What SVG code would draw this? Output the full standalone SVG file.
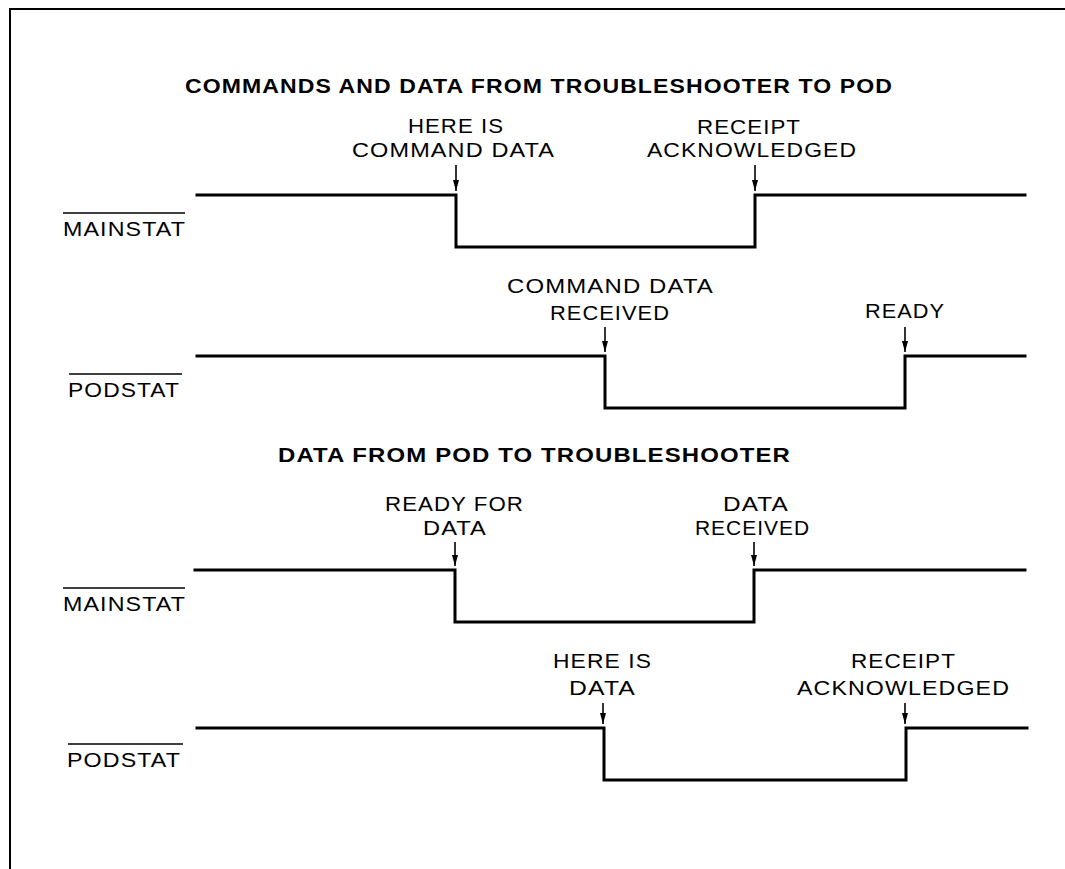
<svg xmlns="http://www.w3.org/2000/svg" width="1065" height="869" viewBox="0 0 1065 869">
  <defs>
    <style>
      .frame { fill: none; stroke: #000; stroke-width: 2; }
      .wave { fill: none; stroke: #000; stroke-width: 3; stroke-linejoin: miter; stroke-linecap: square; }
      .bar { stroke: #000; stroke-width: 1.6; }
      .tick { stroke: #000; stroke-width: 1.6; fill: none; }
      .title { font-family: "Liberation Sans", Arial, sans-serif; font-weight: bold; font-size: 21px; letter-spacing: 1px; fill: #000; }
      .lbl { font-family: "Liberation Sans", Arial, sans-serif; font-size: 21px; letter-spacing: 1px; fill: #000; }
    </style>
    <!-- narrow filled head pointing along the line direction -->
    <marker id="head" markerUnits="userSpaceOnUse" markerWidth="12" markerHeight="8" viewBox="0 0 12 8" refX="11" refY="4" orient="auto">
      <path d="M0,1 L11,4 L0,7 Z" fill="#000"/>
    </marker>
  </defs>

  <rect width="1065" height="869" fill="#fff"/>

  <!-- page frame (top and left edges) -->
  <path class="frame" d="M10,869 V9 H1065"/>

  <!-- section headings -->
  <text class="title" x="185" y="93" textLength="708" lengthAdjust="spacingAndGlyphs">COMMANDS AND DATA FROM TROUBLESHOOTER TO POD</text>
  <text class="title" x="278" y="462" textLength="513" lengthAdjust="spacingAndGlyphs">DATA FROM POD TO TROUBLESHOOTER</text>

  <!-- section 1: MAINSTAT -->
  <g id="mainstat-1">
    <line class="bar" x1="63" y1="213" x2="185" y2="213"/>
    <text class="lbl" x="63" y="236" textLength="123" lengthAdjust="spacingAndGlyphs">MAINSTAT</text>
    <path class="wave" d="M197,195 H456 V247 H755 V195 H1025"/>
    <text class="lbl" x="408" y="133" textLength="96" lengthAdjust="spacingAndGlyphs">HERE IS</text>
    <text class="lbl" x="352" y="157" textLength="203" lengthAdjust="spacingAndGlyphs">COMMAND DATA</text>
    <text class="lbl" x="697" y="134" textLength="104" lengthAdjust="spacingAndGlyphs">RECEIPT</text>
    <text class="lbl" x="647" y="157" textLength="210" lengthAdjust="spacingAndGlyphs">ACKNOWLEDGED</text>
  </g>

  <!-- section 1: PODSTAT -->
  <g id="podstat-1">
    <line class="bar" x1="69" y1="374" x2="182" y2="374"/>
    <text class="lbl" x="68" y="397" textLength="112" lengthAdjust="spacingAndGlyphs">PODSTAT</text>
    <path class="wave" d="M197,356 H605 V408 H905 V356 H1025"/>
    <text class="lbl" x="507" y="293" textLength="207" lengthAdjust="spacingAndGlyphs">COMMAND DATA</text>
    <text class="lbl" x="550" y="320" textLength="120" lengthAdjust="spacingAndGlyphs">RECEIVED</text>
    <text class="lbl" x="865" y="318" textLength="80" lengthAdjust="spacingAndGlyphs">READY</text>
  </g>

  <!-- section 2: MAINSTAT -->
  <g id="mainstat-2">
    <line class="bar" x1="63" y1="588" x2="185" y2="588"/>
    <text class="lbl" x="63" y="611" textLength="123" lengthAdjust="spacingAndGlyphs">MAINSTAT</text>
    <path class="wave" d="M195,570 H455 V622 H754 V570 H1025"/>
    <text class="lbl" x="385" y="511" textLength="139" lengthAdjust="spacingAndGlyphs">READY FOR</text>
    <text class="lbl" x="423" y="535" textLength="64" lengthAdjust="spacingAndGlyphs">DATA</text>
    <text class="lbl" x="723" y="511" textLength="66" lengthAdjust="spacingAndGlyphs">DATA</text>
    <text class="lbl" x="695" y="535" textLength="115" lengthAdjust="spacingAndGlyphs">RECEIVED</text>
  </g>

  <!-- section 2: PODSTAT -->
  <g id="podstat-2">
    <line class="bar" x1="68" y1="744" x2="183" y2="744"/>
    <text class="lbl" x="67" y="767" textLength="114" lengthAdjust="spacingAndGlyphs">PODSTAT</text>
    <path class="wave" d="M197,728 H604 V780 H906 V728 H1027"/>
    <text class="lbl" x="553" y="668" textLength="99" lengthAdjust="spacingAndGlyphs">HERE IS</text>
    <text class="lbl" x="569" y="695" textLength="67" lengthAdjust="spacingAndGlyphs">DATA</text>
    <text class="lbl" x="851" y="668" textLength="105" lengthAdjust="spacingAndGlyphs">RECEIPT</text>
    <text class="lbl" x="797" y="695" textLength="213" lengthAdjust="spacingAndGlyphs">ACKNOWLEDGED</text>
  </g>

  <!-- event pointers onto the signal edges -->
  <g id="connectors">
    <line class="tick" x1="456" y1="165" x2="456" y2="191" marker-end="url(#head)"/>
    <line class="tick" x1="755" y1="165" x2="755" y2="191" marker-end="url(#head)"/>
    <line class="tick" x1="605" y1="327" x2="605" y2="352" marker-end="url(#head)"/>
    <line class="tick" x1="905" y1="327" x2="905" y2="352" marker-end="url(#head)"/>
    <line class="tick" x1="455" y1="542" x2="455" y2="566" marker-end="url(#head)"/>
    <line class="tick" x1="754" y1="542" x2="754" y2="566" marker-end="url(#head)"/>
    <line class="tick" x1="603" y1="703" x2="603" y2="724" marker-end="url(#head)"/>
    <line class="tick" x1="905" y1="703" x2="905" y2="724" marker-end="url(#head)"/>
  </g>
</svg>
